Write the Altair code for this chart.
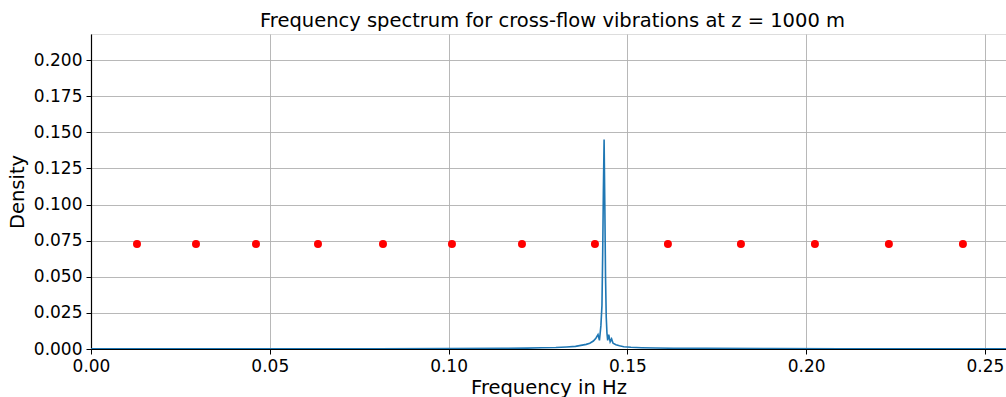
import altair as alt
import pandas as pd

# Spectrum line
spec_freq = [0.0, 0.02, 0.05, 0.08, 0.10, 0.115, 0.122, 0.126, 0.13, 0.133, 0.1355, 0.137, 0.1385,
             0.1395, 0.1405, 0.1412, 0.1418, 0.1422, 0.1426, 0.1429, 0.1431, 0.1433, 0.1435,
             0.1437, 0.1439, 0.1441, 0.1443, 0.1445, 0.1448, 0.1452, 0.1456, 0.146, 0.1468,
             0.1478, 0.149, 0.151, 0.154, 0.158, 0.163, 0.172, 0.19, 0.21, 0.235, 0.2559]
spec_dens = [0.0002, 0.0002, 0.0002, 0.0002, 0.0003, 0.0004, 0.0006, 0.0009, 0.0010, 0.0014, 0.0018, 0.0025, 0.0032,
             0.0040, 0.0055, 0.0075, 0.0100, 0.0060, 0.0160, 0.0300, 0.0650, 0.1100, 0.1450,
             0.1000, 0.0500, 0.0220, 0.0110, 0.0060, 0.0100, 0.0050, 0.0070, 0.0040, 0.0030,
             0.0022, 0.0016, 0.0012, 0.0009, 0.0007, 0.0005, 0.0004, 0.0003, 0.0002, 0.0002, 0.0001]

# Red markers
dot_freq = [0.01286, 0.02936, 0.04614, 0.06348, 0.08166, 0.10095, 0.12053,
            0.14094, 0.16135, 0.18177, 0.20246, 0.22315, 0.24385]
dot_dens = [0.0727] * 13

x_ticks = [0.0, 0.05, 0.10, 0.15, 0.20, 0.25]
y_ticks = [0.0, 0.025, 0.05, 0.075, 0.1, 0.125, 0.15, 0.175, 0.2]

spec = pd.DataFrame({"f": spec_freq, "d": spec_dens})
dots = pd.DataFrame({"f": dot_freq, "d": dot_dens})

FONT = "DejaVu Sans"
xscale = alt.Scale(domain=[0, 0.2559], nice=False, zero=False)
yscale = alt.Scale(domain=[0, 0.218], nice=False, zero=False)

common = dict(grid=True, gridColor="#b0b0b0", gridWidth=0.9, domainColor="black", domainWidth=1.2,
              tickColor="black", tickSize=5, labelFont=FONT, labelFontSize=17,
              labelColor="black", titleFont=FONT, titleFontSize=19.5, titleFontWeight="normal",
              titleColor="black", labelOverlap=False, labelFlush=False, labelBound=False)

xaxis = alt.Axis(values=x_ticks, format=".2f", title="Frequency in Hz", tickCount=len(x_ticks),
                 labelPadding=4, titlePadding=4, **common)
yaxis = alt.Axis(values=y_ticks, format=".3f", title="Density", tickCount=len(y_ticks),
                 labelPadding=4, titlePadding=6, **common)

line = alt.Chart(spec).mark_line(color="#1f77b4", strokeWidth=1.6, clip=True).encode(
    x=alt.X("f:Q", scale=xscale, axis=xaxis),
    y=alt.Y("d:Q", scale=yscale, axis=yaxis),
)
pts = alt.Chart(dots).mark_circle(color="red", size=64, opacity=1).encode(
    x=alt.X("f:Q", scale=xscale, axis=xaxis),
    y=alt.Y("d:Q", scale=yscale, axis=yaxis),
)

chart = (line + pts).properties(
    width=915, height=315,
    title=alt.TitleParams("Frequency spectrum for cross-flow vibrations at z = 1000 m",
                          font=FONT, fontSize=19.5, fontWeight="normal", color="black",
                          anchor="middle", dx=4, offset=3),
    padding={"left": 91, "top": 34, "right": 0, "bottom": 48},
    autosize=alt.AutoSizeParams(type="none"),
).configure_view(stroke="#333333", strokeWidth=1.2).configure(background="white")

chart.save("out.html", embed_options={"renderer": "svg", "actions": False})
